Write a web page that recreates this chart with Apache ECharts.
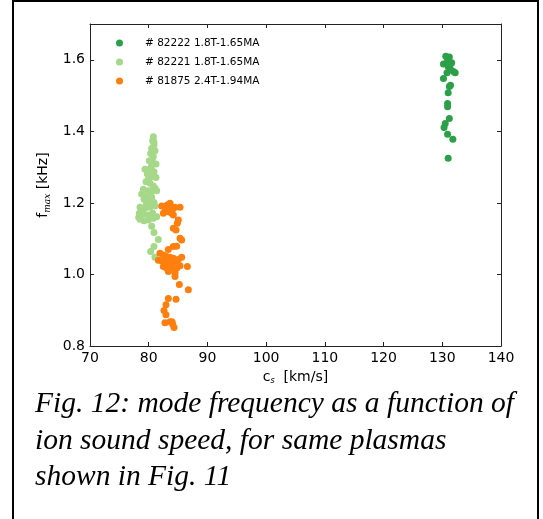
<!DOCTYPE html>
<html><head><meta charset="utf-8">
<script src="https://cdn.jsdelivr.net/npm/echarts@6/dist/echarts.min.js"></script>
<style>html,body{margin:0;padding:0;background:#fff}#c{width:543px;height:519px}</style>
</head><body><div id="c"></div>
<script>
const seriesNames = ['# 82222 1.8T-1.65MA', '# 82221 1.8T-1.65MA', '# 81875 2.4T-1.94MA'];
const xTicks = [70, 80, 90, 100, 110, 120, 130, 140];
const yTicks = [0.8, 1.0, 1.2, 1.4, 1.6];
const shot82222 = [
 [130.6,1.610],[131.2,1.608],[131.6,1.592],[130.2,1.588],[131.0,1.581],[131.4,1.573],[131.9,1.567],
 [130.8,1.564],[132.2,1.564],[130.2,1.548],[131.4,1.529],[131.2,1.525],[131.0,1.508],[130.9,1.478],
 [130.9,1.469],[131.2,1.436],[130.5,1.422],[130.3,1.411],[130.9,1.392],[131.8,1.378],[131.0,1.325],
 [130.9,1.600],[131.3,1.585]
];
const shot82221 = [
 [80.79,1.385],[80.67,1.374],[80.90,1.362],[80.50,1.352],[81.07,1.346],[80.33,1.338],[80.79,1.329],
 [80.11,1.318],[80.67,1.312],[81.24,1.309],[79.37,1.294],[80.22,1.292],[80.90,1.287],[79.77,1.281],
 [80.50,1.273],[81.24,1.271],[79.54,1.259],[80.22,1.255],[80.79,1.247],[79.08,1.238],[79.94,1.234],
 [81.07,1.241],[78.80,1.225],[79.65,1.219],[80.50,1.216],[81.36,1.234],[79.20,1.210],[80.11,1.203],
 [80.90,1.201],[78.52,1.188],[79.37,1.185],[80.22,1.188],[81.07,1.191],[78.40,1.171],[79.08,1.169],
 [79.94,1.166],[80.67,1.171],[78.52,1.154],[79.20,1.150],[79.94,1.152],[80.79,1.157],[81.36,1.161],
 [80.50,1.135],[80.90,1.117],[81.64,1.098],[80.90,1.078],[80.33,1.064],[81.07,1.048],
 [80.9,1.370],[80.6,1.340],[80.4,1.300],[79.9,1.265],[80.4,1.228],[79.6,1.196],[78.9,1.178],[78.3,1.160]
];
const shot81875 = [
 [82.21,1.191],[82.77,1.188],[83.17,1.194],[83.63,1.199],[83.51,1.185],[84.08,1.182],[84.48,1.188],
 [85.33,1.188],[82.49,1.171],[83.34,1.175],[83.91,1.171],[84.19,1.166],[85.04,1.152],[84.87,1.143],
 [84.19,1.129],[84.65,1.124],[85.33,1.101],[85.61,1.096],[84.19,1.078],[83.34,1.070],[84.76,1.079],
 [81.92,1.059],[82.49,1.054],[83.06,1.050],[83.63,1.048],[84.19,1.045],[81.64,1.040],[82.21,1.038],
 [82.77,1.036],[83.34,1.033],[83.91,1.031],[84.48,1.036],[85.04,1.042],[85.61,1.048],[82.49,1.022],
 [83.06,1.017],[83.63,1.022],[84.19,1.014],[84.76,1.017],[85.33,1.024],[83.34,1.008],[84.48,1.003],
 [86.58,1.022],[84.48,0.994],[85.22,0.972],[86.75,0.957],[83.34,0.933],[84.65,0.931],[82.94,0.915],
 [82.60,0.899],[82.94,0.887],[82.77,0.865],[83.63,0.868],[84.08,0.861],[84.31,0.852],[83.97,0.868]
];
const caption = ['Fig. 12: mode frequency as a function of', 'ion sound speed, for same plasmas', 'shown in Fig. 11'];

const colors = ['#2ca048', '#a6d88a', '#ff7f0e'];
const font = 'DejaVu Sans';
const chart = echarts.init(document.getElementById('c'), null, {renderer: 'canvas'});
const axisLine = {show: true, lineStyle: {color: '#222', width: 1}};
const tick = {show: true, inside: true, length: 4, lineStyle: {color: '#222'}};
const xMin = xTicks[0], xMax = xTicks[xTicks.length-1], xInt = xTicks[1]-xTicks[0];
const yMin = yTicks[0], yInt = 0.2, yMax = 1.7;
chart.setOption({
  animation: false,
  color: colors,
  grid: {left: 90, top: 24, right: 42, bottom: 173, containLabel: false},
  legend: {
    data: seriesNames, orient: 'vertical', left: 111, top: 32, itemGap: 7,
    icon: 'circle', itemWidth: 7, itemHeight: 7,
    textStyle: {fontFamily: font, fontSize: 10.5, lineHeight: 12, color: '#000', padding: [0, 0, 0, 17]}
  },
  xAxis: [
    {type: 'value', min: xMin, max: xMax, interval: xInt, position: 'bottom',
     axisLine, axisTick: tick, splitLine: {show: false},
     axisLabel: {fontFamily: font, fontSize: 14, color: '#000', margin: 5},
     name: '{a|c}{s|s}{a|  [km/s]}', nameLocation: 'middle', nameGap: 16,
     nameTextStyle: {rich: {a: {fontFamily: font, fontSize: 14, color: '#000'},
                            s: {fontFamily: font, fontSize: 8, fontStyle: 'italic', color: '#000', verticalAlign: 'bottom', padding: [8, 0, 0, 0]}}}},
    {type: 'value', min: xMin, max: xMax, interval: xInt, position: 'top',
     axisLine, axisTick: tick, axisLabel: {show: false}, splitLine: {show: false}}
  ],
  yAxis: [
    {type: 'value', min: yMin, max: yMax, interval: yInt, position: 'left',
     axisLine, axisTick: tick, splitLine: {show: false},
     axisLabel: {fontFamily: font, fontSize: 14, color: '#000', margin: 5, showMaxLabel: false,
                 formatter: v => (Math.abs(v - 1.7) < 1e-6 ? '' : v.toFixed(1))},
     name: '{a|f}{s|max}{a| [kHz]}', nameLocation: 'middle', nameRotate: 90, nameGap: 32,
     nameTextStyle: {rich: {a: {fontFamily: font, fontSize: 14, color: '#000'},
                            s: {fontFamily: 'DejaVu Serif', fontSize: 9, fontStyle: 'italic', color: '#000', verticalAlign: 'bottom', padding: [8, 0, 0, 0]}}}},
    {type: 'value', min: yMin, max: yMax, interval: yInt, position: 'right',
     axisLine, axisTick: tick, axisLabel: {show: false}, splitLine: {show: false}}
  ],
  series: [
    {name: seriesNames[0], type: 'scatter', data: shot82222, symbolSize: 7, itemStyle: {opacity: 1}},
    {name: seriesNames[1], type: 'scatter', data: shot82221, symbolSize: 7, itemStyle: {opacity: 1}},
    {name: seriesNames[2], type: 'scatter', data: shot81875, symbolSize: 7, itemStyle: {opacity: 1}}
  ],
  graphic: [
    {type: 'polyline', shape: {points: [[13, 519], [13, 1], [538, 1], [538, 519]]},
     style: {stroke: '#000', lineWidth: 2, fill: null}},
    {type: 'text', left: 35, top: 386,
     style: {text: caption.join('\n'), font: 'italic 29.5px "Liberation Serif"', lineHeight: 36.5, fill: '#000'}}
  ]
});
</script></body></html>
